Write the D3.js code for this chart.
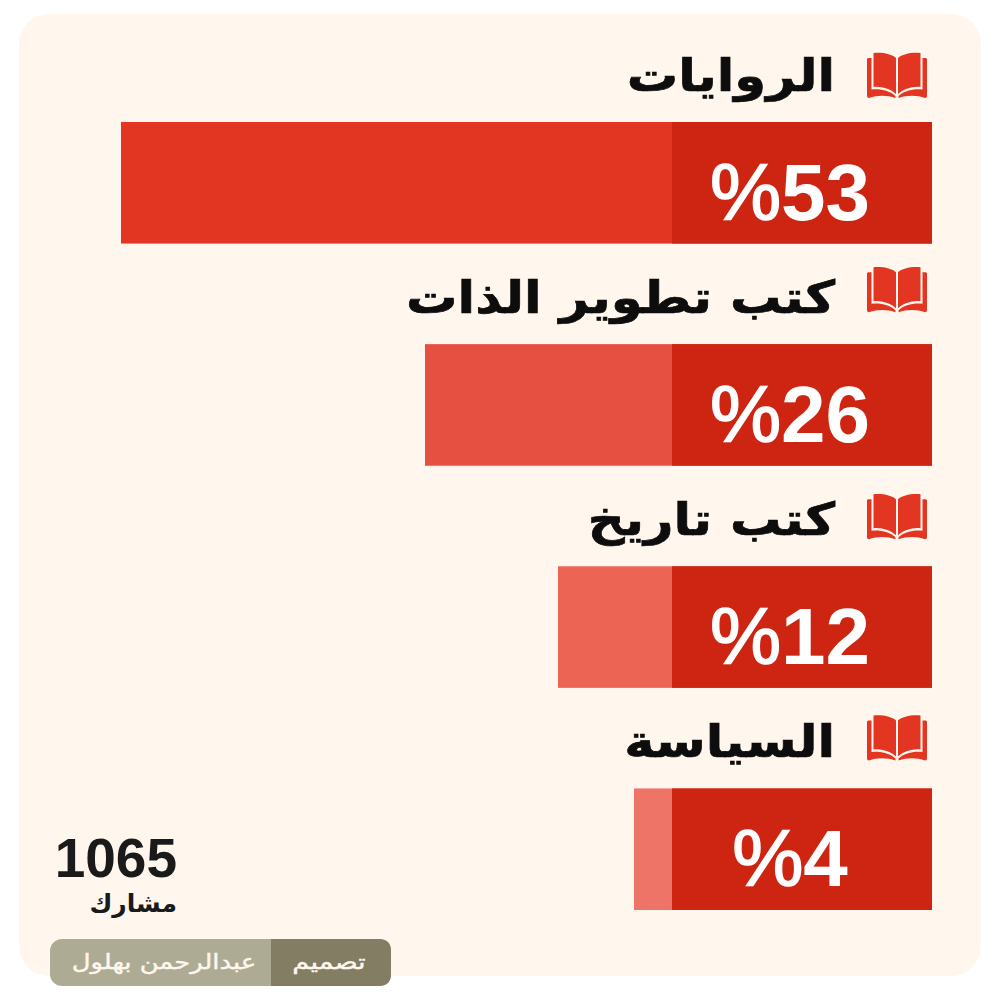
<!DOCTYPE html>
<html>
<head>
<meta charset="utf-8">
<script src="https://cdn.jsdelivr.net/npm/d3@7"></script>
<style>
html, body { margin: 0; background: #fff; }
svg { display: block; }
</style>
</head>
<body>
<script>
var categories = ["الروايات", "كتب تطوير الذات", "كتب تاريخ", "السياسة"];
var values = [53, 26, 12, 4];
var barColors = ["#e33622", "#e55040", "#ec6454", "#ee7468"];
var participants = "1065";
var participantsLabel = "مشارك";
var creditLabel = "تصميم";
var creditName = "عبدالرحمن بهلول";

var arabicFont = "'DejaVu Sans', sans-serif";
var latinFont = "'Liberation Sans', Arial, sans-serif";

var svg = d3.select("body").append("svg").attr("width", 1000).attr("height", 1000);

// card
svg.append("rect").attr("x", 19).attr("y", 14).attr("width", 962).attr("height", 962)
	.attr("rx", 30).attr("fill", "#fff7ee");

// the bars in the original are not strictly proportional, hence the bent scale
var right = 932, darkLeft = 672;
var x = d3.scaleLinear().domain([0, 26, 53]).range([darkLeft, 425, 121]);
var y = d3.scaleBand().domain(categories).range([122, 910]).paddingInner(0.4527);

// open book icon, 60x46 box
var bookPath = "M6.5 1 C15 0 25 2 29 6 L29 42 C24 37 14 34 6.5 35Z " +
	"M53.5 1 C45 0 35 2 31 6 L31 42 C36 37 46 34 53.5 35Z " +
	"M1 6 H4.5 V37.5 C14 36.5 23 39 28.5 44 L28.5 46 C20 43 10 43 2 46 Q0 46 0 44 V7Z " +
	"M59 6 H55.5 V37.5 C46 36.5 37 39 31.5 44 L31.5 46 C40 43 50 43 58 46 Q60 46 60 44 V7Z";
// the icons sit a little unevenly above their bars in the original
var iconOffset = [-70, -78, -73, -74];

var rows = svg.selectAll("g.row").data(categories).enter().append("g").attr("class", "row");

rows.append("rect")
	.attr("x", function (d, i) { return x(values[i]); })
	.attr("y", function (d) { return y(d); })
	.attr("width", function (d, i) { return right - x(values[i]); })
	.attr("height", y.bandwidth())
	.attr("fill", function (d, i) { return barColors[i]; });

rows.append("rect")
	.attr("x", darkLeft)
	.attr("y", function (d) { return y(d); })
	.attr("width", right - darkLeft)
	.attr("height", y.bandwidth())
	.attr("fill", "#cd2512");

// value label, the % sign is lighter than the digits
var valueText = rows.append("text")
	.attr("x", 790)
	.attr("y", function (d) { return y(d) + 98; })
	.attr("text-anchor", "middle")
	.attr("direction", "ltr")
	.attr("font-family", latinFont)
	.attr("font-size", 80)
	.attr("fill", "#fff");
valueText.append("tspan").attr("font-weight", 400)
	.attr("stroke", "#fff").attr("stroke-width", 1.6).text("%");
valueText.append("tspan").attr("font-weight", 700).text(function (d, i) { return values[i]; });

rows.append("text")
	.attr("transform", function (d) { return "translate(835," + (y(d) - 31) + ") scale(1.14,1)"; })
	.attr("text-anchor", "start")
	.attr("direction", "rtl")
	.attr("font-family", arabicFont)
	.attr("font-weight", 700)
	.attr("font-size", 45)
	.attr("fill", "#0d0d0d")
	.attr("stroke", "#0d0d0d")
	.attr("stroke-width", 0.7)
	.text(function (d) { return d; });

rows.append("path")
	.attr("d", bookPath)
	.attr("transform", function (d, i) { return "translate(867," + (y(d) + iconOffset[i]) + ")"; })
	.attr("fill", "#e33622");

// participants
svg.append("text").attr("x", 177).attr("y", 877).attr("text-anchor", "end")
	.attr("font-family", latinFont).attr("font-weight", 700).attr("font-size", 55)
	.attr("fill", "#1a1a1a").text(participants);
svg.append("text").attr("x", 177).attr("y", 912).attr("text-anchor", "start")
	.attr("direction", "rtl").attr("font-family", arabicFont).attr("font-weight", 700)
	.attr("font-size", 25).attr("fill", "#1a1a1a").text(participantsLabel);

// credit pill
svg.append("rect").attr("x", 50).attr("y", 939).attr("width", 341).attr("height", 47)
	.attr("rx", 12).attr("fill", "#aeab95");
svg.append("path").attr("d", "M271 939 H379 Q391 939 391 951 V974 Q391 986 379 986 H271Z")
	.attr("fill", "#837d63");
svg.append("text").attr("transform", "translate(329,969) scale(1.3,1)").attr("text-anchor", "middle")
	.attr("direction", "rtl").attr("font-family", arabicFont).attr("font-size", 21)
	.attr("fill", "#fff7ee").attr("stroke", "#fff7ee").attr("stroke-width", 0.4).text(creditLabel);
svg.append("text").attr("transform", "translate(164,969) scale(1.23,1)").attr("text-anchor", "middle")
	.attr("direction", "rtl").attr("font-family", arabicFont).attr("font-size", 21)
	.attr("fill", "#fff7ee").attr("stroke", "#fff7ee").attr("stroke-width", 0.4).text(creditName);
</script>
</body>
</html>
